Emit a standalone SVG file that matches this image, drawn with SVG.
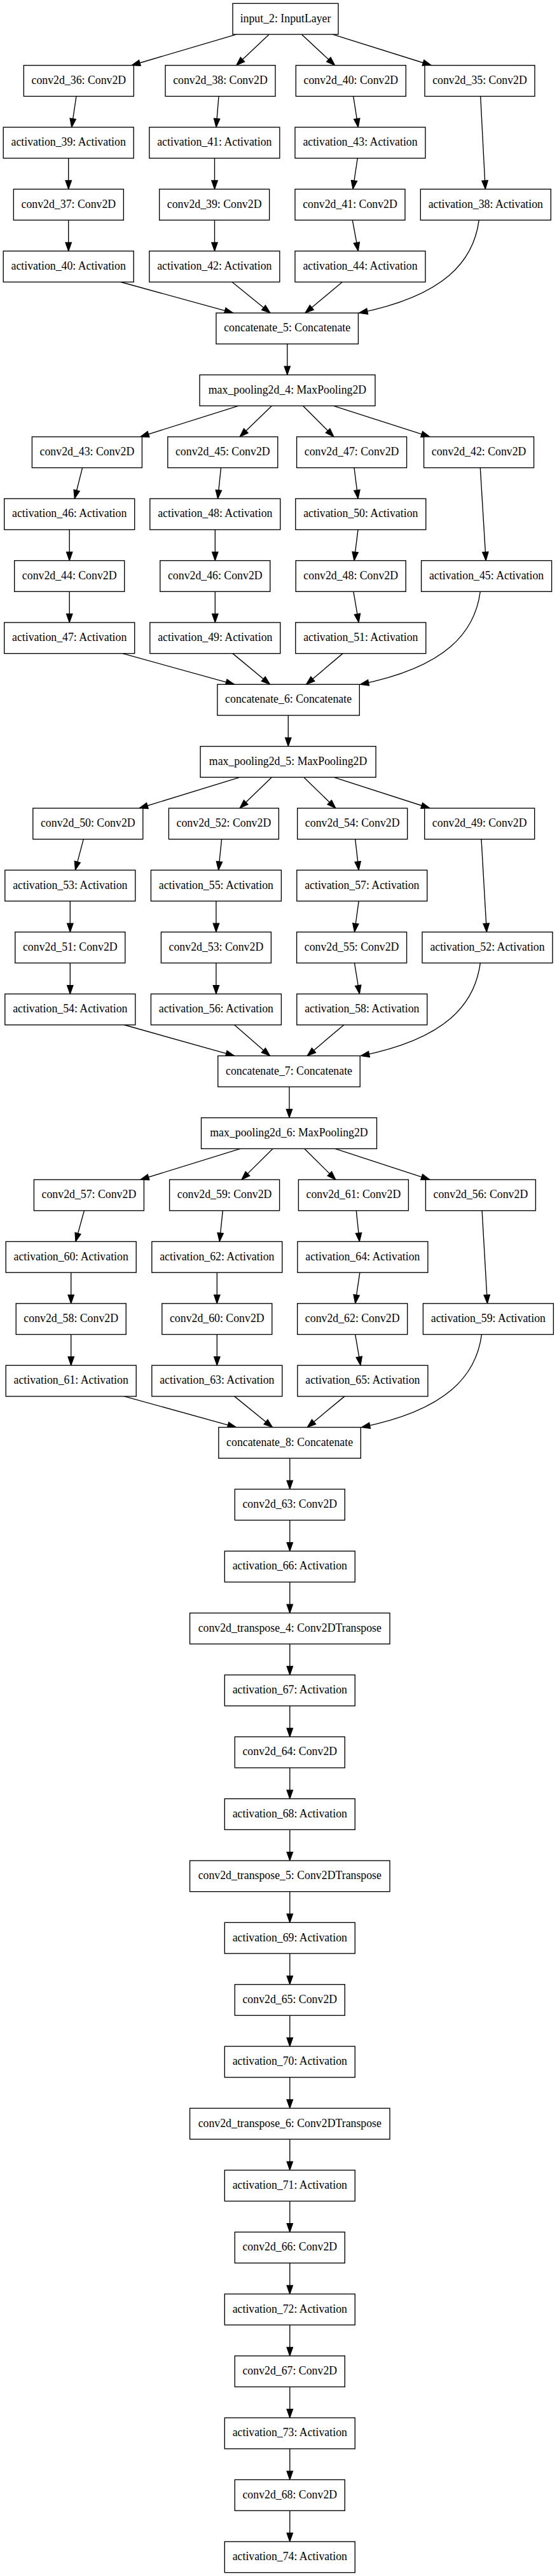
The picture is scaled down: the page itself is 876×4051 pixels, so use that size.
<svg xmlns="http://www.w3.org/2000/svg" width="876" height="4051" viewBox="0 0 876 4051">
<style>
.n rect{fill:#fff;stroke:#000;stroke-width:1.35}
.n text{font-family:"Liberation Serif","Times New Roman",serif;font-size:17.8px;text-anchor:middle;fill:#000}
.e path{fill:none;stroke:#000;stroke-width:1.35;marker-end:url(#ah)}
</style>
<defs>
<marker id="ah" markerUnits="userSpaceOnUse" markerWidth="20" markerHeight="20" refX="13.5" refY="4.73" orient="auto" overflow="visible">
<path d="M0,0 L13.5,4.73 L0,9.46 z" fill="#000" stroke="#000" stroke-width="1.2"/>
</marker>
</defs>
<rect width="876" height="4051" fill="#fff"/>
<g id="edges" class="e">
<path d="M371.7,54.09 L207,102.76"/>
<path d="M423.3,54.09 L371.7,102.76"/>
<path d="M474.3,54.09 L526.7,102.76"/>
<path d="M523.3,54.09 L678.3,102.76"/>
<path d="M120,151.44 L112.7,200.12"/>
<path d="M107.7,248.8 L107.7,297.47"/>
<path d="M107.7,346.15 L107.7,394.83"/>
<path d="M344,151.44 L340,200.12"/>
<path d="M337.5,248.8 L337.5,297.47"/>
<path d="M337.5,346.15 L337.5,394.83"/>
<path d="M555.7,151.44 L563.3,200.12"/>
<path d="M562.3,248.8 L555,297.47"/>
<path d="M554.3,346.15 L563.3,394.83"/>
<path d="M755.7,151.44 L763.3,297.47"/>
<path d="M190,443.51 L366.7,492.18"/>
<path d="M365,443.51 L425,492.18"/>
<path d="M538.3,443.51 L480,492.18"/>
<path d="M753.3,346.15 C745,410 700,465 564.5,492.18"/>
<path d="M451.8,540.86 L451.8,589.53"/>
<path d="M375.4,638.21 L220.7,686.89"/>
<path d="M427.4,638.21 L377.1,686.89"/>
<path d="M476.5,638.21 L525.1,686.89"/>
<path d="M524,638.21 L676,686.89"/>
<path d="M129.6,735.57 L117.3,784.24"/>
<path d="M109.2,832.92 L109.2,881.6"/>
<path d="M109.2,930.28 L109.2,978.95"/>
<path d="M347.5,735.57 L342.5,784.24"/>
<path d="M338.3,832.92 L338.3,881.6"/>
<path d="M338.3,930.28 L338.3,978.95"/>
<path d="M557,735.57 L563.1,784.24"/>
<path d="M563.1,832.92 L557,881.6"/>
<path d="M555.9,930.28 L564.2,978.95"/>
<path d="M755.3,735.57 L764.2,881.6"/>
<path d="M192.7,1027.63 L368.7,1076.3"/>
<path d="M365.9,1027.63 L424.6,1076.3"/>
<path d="M539.1,1027.63 L481.6,1076.3"/>
<path d="M755.3,930.28 C747,994.13 701.9,1049.1 566.4,1076.3"/>
<path d="M453.3,1124.98 L453.3,1173.66"/>
<path d="M377.1,1222.34 L219,1271.01"/>
<path d="M427.4,1222.34 L377.1,1271.01"/>
<path d="M477.7,1222.34 L527.9,1271.01"/>
<path d="M525.1,1222.34 L676,1271.01"/>
<path d="M131.3,1319.69 L118.4,1368.37"/>
<path d="M110.3,1417.05 L110.3,1465.72"/>
<path d="M110.3,1514.4 L110.3,1563.07"/>
<path d="M348.6,1319.69 L343.6,1368.37"/>
<path d="M339.9,1417.05 L339.9,1465.72"/>
<path d="M339.9,1514.4 L339.9,1563.07"/>
<path d="M558.7,1319.69 L564.2,1368.37"/>
<path d="M564.2,1417.05 L557.5,1465.72"/>
<path d="M557.5,1514.4 L565.4,1563.07"/>
<path d="M757,1319.69 L765.4,1465.72"/>
<path d="M195.5,1611.75 L368.7,1660.43"/>
<path d="M368.7,1611.75 L424.6,1660.43"/>
<path d="M540.8,1611.75 L483.2,1660.43"/>
<path d="M755.3,1514.4 C747,1578.25 702.8,1633.23 567.3,1660.43"/>
<path d="M455,1709.11 L455,1757.78"/>
<path d="M378.2,1806.46 L220.7,1855.14"/>
<path d="M429,1806.46 L379.9,1855.14"/>
<path d="M478.8,1806.46 L527.9,1855.14"/>
<path d="M526.8,1806.46 L676,1855.14"/>
<path d="M132.4,1903.82 L119,1952.49"/>
<path d="M111.7,2001.17 L111.7,2049.84"/>
<path d="M111.7,2098.52 L111.7,2147.2"/>
<path d="M350.3,1903.82 L345.3,1952.49"/>
<path d="M341.3,2001.17 L341.3,2049.84"/>
<path d="M341.3,2098.52 L341.3,2147.2"/>
<path d="M560.3,1903.82 L565.4,1952.49"/>
<path d="M565.9,2001.17 L558.7,2049.84"/>
<path d="M558.7,2098.52 L567,2147.2"/>
<path d="M758.1,1903.82 L766.5,2049.84"/>
<path d="M195.5,2195.88 L371.5,2244.55"/>
<path d="M368.7,2195.88 L428.5,2244.55"/>
<path d="M541.9,2195.88 L483.2,2244.55"/>
<path d="M757.5,2098.52 C749.2,2162.37 703.9,2217.35 568.4,2244.55"/>
<path d="M455.8,2293.23 L455.8,2341.91"/>
<path d="M455.8,2390.59 L455.8,2439.26"/>
<path d="M455.8,2487.94 L455.8,2536.61"/>
<path d="M455.8,2585.29 L455.8,2633.97"/>
<path d="M455.8,2682.65 L455.8,2731.32"/>
<path d="M455.8,2780 L455.8,2828.68"/>
<path d="M455.8,2877.36 L455.8,2926.03"/>
<path d="M455.8,2974.71 L455.8,3023.38"/>
<path d="M455.8,3072.06 L455.8,3120.74"/>
<path d="M455.8,3169.42 L455.8,3218.09"/>
<path d="M455.8,3266.77 L455.8,3315.45"/>
<path d="M455.8,3364.13 L455.8,3412.8"/>
<path d="M455.8,3461.48 L455.8,3510.15"/>
<path d="M455.8,3558.83 L455.8,3607.51"/>
<path d="M455.8,3656.19 L455.8,3704.86"/>
<path d="M455.8,3753.54 L455.8,3802.22"/>
<path d="M455.8,3850.9 L455.8,3899.57"/>
<path d="M455.8,3948.25 L455.8,3996.92"/>
</g>
<g id="input_2" class="n"><rect x="366" y="5.41" width="166" height="48.68"/><text x="449" y="34.55">input_2: InputLayer</text></g>
<g id="conv2d_36" class="n"><rect x="37.35" y="102.76" width="173" height="48.68"/><text x="123.85" y="131.9">conv2d_36: Conv2D</text></g>
<g id="conv2d_38" class="n"><rect x="260" y="102.76" width="173" height="48.68"/><text x="346.5" y="131.9">conv2d_38: Conv2D</text></g>
<g id="conv2d_40" class="n"><rect x="465.35" y="102.76" width="173" height="48.68"/><text x="551.85" y="131.9">conv2d_40: Conv2D</text></g>
<g id="conv2d_35" class="n"><rect x="668" y="102.76" width="173" height="48.68"/><text x="754.5" y="131.9">conv2d_35: Conv2D</text></g>
<g id="activation_39" class="n"><rect x="5.2" y="200.12" width="205" height="48.68"/><text x="107.7" y="229.26">activation_39: Activation</text></g>
<g id="activation_41" class="n"><rect x="234.85" y="200.12" width="205" height="48.68"/><text x="337.35" y="229.26">activation_41: Activation</text></g>
<g id="activation_43" class="n"><rect x="464" y="200.12" width="205" height="48.68"/><text x="566.5" y="229.26">activation_43: Activation</text></g>
<g id="conv2d_37" class="n"><rect x="21.35" y="297.47" width="173" height="48.68"/><text x="107.85" y="326.61">conv2d_37: Conv2D</text></g>
<g id="conv2d_39" class="n"><rect x="250.65" y="297.47" width="173" height="48.68"/><text x="337.15" y="326.61">conv2d_39: Conv2D</text></g>
<g id="conv2d_41" class="n"><rect x="464" y="297.47" width="173" height="48.68"/><text x="550.5" y="326.61">conv2d_41: Conv2D</text></g>
<g id="activation_38" class="n"><rect x="661.35" y="297.47" width="205" height="48.68"/><text x="763.85" y="326.61">activation_38: Activation</text></g>
<g id="activation_40" class="n"><rect x="5.2" y="394.83" width="205" height="48.68"/><text x="107.7" y="423.97">activation_40: Activation</text></g>
<g id="activation_42" class="n"><rect x="234.85" y="394.83" width="205" height="48.68"/><text x="337.35" y="423.97">activation_42: Activation</text></g>
<g id="activation_44" class="n"><rect x="464" y="394.83" width="205" height="48.68"/><text x="566.5" y="423.97">activation_44: Activation</text></g>
<g id="concatenate_5" class="n"><rect x="339.95" y="492.18" width="223.5" height="48.68"/><text x="451.7" y="521.32">concatenate_5: Concatenate</text></g>
<g id="max_pooling2d_4" class="n"><rect x="314" y="589.53" width="276" height="48.68"/><text x="452" y="618.67">max_pooling2d_4: MaxPooling2D</text></g>
<g id="conv2d_43" class="n"><rect x="50.4" y="686.89" width="173" height="48.68"/><text x="136.9" y="716.03">conv2d_43: Conv2D</text></g>
<g id="conv2d_45" class="n"><rect x="263.8" y="686.89" width="173" height="48.68"/><text x="350.3" y="716.03">conv2d_45: Conv2D</text></g>
<g id="conv2d_47" class="n"><rect x="466.6" y="686.89" width="173" height="48.68"/><text x="553.1" y="716.03">conv2d_47: Conv2D</text></g>
<g id="conv2d_42" class="n"><rect x="666.6" y="686.89" width="173" height="48.68"/><text x="753.1" y="716.03">conv2d_42: Conv2D</text></g>
<g id="activation_46" class="n"><rect x="6.7" y="784.24" width="205" height="48.68"/><text x="109.2" y="813.38">activation_46: Activation</text></g>
<g id="activation_48" class="n"><rect x="235.8" y="784.24" width="205" height="48.68"/><text x="338.3" y="813.38">activation_48: Activation</text></g>
<g id="activation_50" class="n"><rect x="464.8" y="784.24" width="205" height="48.68"/><text x="567.3" y="813.38">activation_50: Activation</text></g>
<g id="conv2d_44" class="n"><rect x="22.7" y="881.6" width="173" height="48.68"/><text x="109.2" y="910.74">conv2d_44: Conv2D</text></g>
<g id="conv2d_46" class="n"><rect x="251.8" y="881.6" width="173" height="48.68"/><text x="338.3" y="910.74">conv2d_46: Conv2D</text></g>
<g id="conv2d_48" class="n"><rect x="465.2" y="881.6" width="173" height="48.68"/><text x="551.7" y="910.74">conv2d_48: Conv2D</text></g>
<g id="activation_45" class="n"><rect x="662.6" y="881.6" width="205" height="48.68"/><text x="765.1" y="910.74">activation_45: Activation</text></g>
<g id="activation_47" class="n"><rect x="6.7" y="978.95" width="205" height="48.68"/><text x="109.2" y="1008.09">activation_47: Activation</text></g>
<g id="activation_49" class="n"><rect x="235.8" y="978.95" width="205" height="48.68"/><text x="338.3" y="1008.09">activation_49: Activation</text></g>
<g id="activation_51" class="n"><rect x="464.8" y="978.95" width="205" height="48.68"/><text x="567.3" y="1008.09">activation_51: Activation</text></g>
<g id="concatenate_6" class="n"><rect x="341.85" y="1076.3" width="223.5" height="48.68"/><text x="453.6" y="1105.44">concatenate_6: Concatenate</text></g>
<g id="max_pooling2d_5" class="n"><rect x="315.1" y="1173.66" width="276" height="48.68"/><text x="453.1" y="1202.8">max_pooling2d_5: MaxPooling2D</text></g>
<g id="conv2d_50" class="n"><rect x="51.8" y="1271.01" width="173" height="48.68"/><text x="138.3" y="1300.15">conv2d_50: Conv2D</text></g>
<g id="conv2d_52" class="n"><rect x="265.4" y="1271.01" width="173" height="48.68"/><text x="351.9" y="1300.15">conv2d_52: Conv2D</text></g>
<g id="conv2d_54" class="n"><rect x="467.7" y="1271.01" width="173" height="48.68"/><text x="554.2" y="1300.15">conv2d_54: Conv2D</text></g>
<g id="conv2d_49" class="n"><rect x="667.7" y="1271.01" width="173" height="48.68"/><text x="754.2" y="1300.15">conv2d_49: Conv2D</text></g>
<g id="activation_53" class="n"><rect x="7.8" y="1368.37" width="205" height="48.68"/><text x="110.3" y="1397.51">activation_53: Activation</text></g>
<g id="activation_55" class="n"><rect x="237.4" y="1368.37" width="205" height="48.68"/><text x="339.9" y="1397.51">activation_55: Activation</text></g>
<g id="activation_57" class="n"><rect x="466.8" y="1368.37" width="205" height="48.68"/><text x="569.3" y="1397.51">activation_57: Activation</text></g>
<g id="conv2d_51" class="n"><rect x="23.8" y="1465.72" width="173" height="48.68"/><text x="110.3" y="1494.86">conv2d_51: Conv2D</text></g>
<g id="conv2d_53" class="n"><rect x="253.4" y="1465.72" width="173" height="48.68"/><text x="339.9" y="1494.86">conv2d_53: Conv2D</text></g>
<g id="conv2d_55" class="n"><rect x="466.6" y="1465.72" width="173" height="48.68"/><text x="553.1" y="1494.86">conv2d_55: Conv2D</text></g>
<g id="activation_52" class="n"><rect x="664" y="1465.72" width="205" height="48.68"/><text x="766.5" y="1494.86">activation_52: Activation</text></g>
<g id="activation_54" class="n"><rect x="7.8" y="1563.07" width="205" height="48.68"/><text x="110.3" y="1592.21">activation_54: Activation</text></g>
<g id="activation_56" class="n"><rect x="237.4" y="1563.07" width="205" height="48.68"/><text x="339.9" y="1592.21">activation_56: Activation</text></g>
<g id="activation_58" class="n"><rect x="466.8" y="1563.07" width="205" height="48.68"/><text x="569.3" y="1592.21">activation_58: Activation</text></g>
<g id="concatenate_7" class="n"><rect x="342.75" y="1660.43" width="223.5" height="48.68"/><text x="454.5" y="1689.57">concatenate_7: Concatenate</text></g>
<g id="max_pooling2d_6" class="n"><rect x="316.5" y="1757.78" width="276" height="48.68"/><text x="454.5" y="1786.92">max_pooling2d_6: MaxPooling2D</text></g>
<g id="conv2d_57" class="n"><rect x="53.4" y="1855.14" width="173" height="48.68"/><text x="139.9" y="1884.28">conv2d_57: Conv2D</text></g>
<g id="conv2d_59" class="n"><rect x="266.6" y="1855.14" width="173" height="48.68"/><text x="353.1" y="1884.28">conv2d_59: Conv2D</text></g>
<g id="conv2d_61" class="n"><rect x="469.4" y="1855.14" width="173" height="48.68"/><text x="555.9" y="1884.28">conv2d_61: Conv2D</text></g>
<g id="conv2d_56" class="n"><rect x="669.4" y="1855.14" width="173" height="48.68"/><text x="755.9" y="1884.28">conv2d_56: Conv2D</text></g>
<g id="activation_60" class="n"><rect x="9.2" y="1952.49" width="205" height="48.68"/><text x="111.7" y="1981.63">activation_60: Activation</text></g>
<g id="activation_62" class="n"><rect x="238.8" y="1952.49" width="205" height="48.68"/><text x="341.3" y="1981.63">activation_62: Activation</text></g>
<g id="activation_64" class="n"><rect x="467.9" y="1952.49" width="205" height="48.68"/><text x="570.4" y="1981.63">activation_64: Activation</text></g>
<g id="conv2d_58" class="n"><rect x="25.2" y="2049.84" width="173" height="48.68"/><text x="111.7" y="2078.98">conv2d_58: Conv2D</text></g>
<g id="conv2d_60" class="n"><rect x="254.8" y="2049.84" width="173" height="48.68"/><text x="341.3" y="2078.98">conv2d_60: Conv2D</text></g>
<g id="conv2d_62" class="n"><rect x="467.7" y="2049.84" width="173" height="48.68"/><text x="554.2" y="2078.98">conv2d_62: Conv2D</text></g>
<g id="activation_59" class="n"><rect x="665.4" y="2049.84" width="205" height="48.68"/><text x="767.9" y="2078.98">activation_59: Activation</text></g>
<g id="activation_61" class="n"><rect x="9.2" y="2147.2" width="205" height="48.68"/><text x="111.7" y="2176.34">activation_61: Activation</text></g>
<g id="activation_63" class="n"><rect x="238.8" y="2147.2" width="205" height="48.68"/><text x="341.3" y="2176.34">activation_63: Activation</text></g>
<g id="activation_65" class="n"><rect x="467.9" y="2147.2" width="205" height="48.68"/><text x="570.4" y="2176.34">activation_65: Activation</text></g>
<g id="concatenate_8" class="n"><rect x="343.85" y="2244.55" width="223.5" height="48.68"/><text x="455.6" y="2273.69">concatenate_8: Concatenate</text></g>
<g id="conv2d_63" class="n"><rect x="369.3" y="2341.91" width="173" height="48.68"/><text x="455.8" y="2371.05">conv2d_63: Conv2D</text></g>
<g id="activation_66" class="n"><rect x="353.3" y="2439.26" width="205" height="48.68"/><text x="455.8" y="2468.4">activation_66: Activation</text></g>
<g id="conv2d_transpose_4" class="n"><rect x="298.55" y="2536.61" width="314.5" height="48.68"/><text x="455.8" y="2565.75">conv2d_transpose_4: Conv2DTranspose</text></g>
<g id="activation_67" class="n"><rect x="353.3" y="2633.97" width="205" height="48.68"/><text x="455.8" y="2663.11">activation_67: Activation</text></g>
<g id="conv2d_64" class="n"><rect x="369.3" y="2731.32" width="173" height="48.68"/><text x="455.8" y="2760.46">conv2d_64: Conv2D</text></g>
<g id="activation_68" class="n"><rect x="353.3" y="2828.68" width="205" height="48.68"/><text x="455.8" y="2857.82">activation_68: Activation</text></g>
<g id="conv2d_transpose_5" class="n"><rect x="298.55" y="2926.03" width="314.5" height="48.68"/><text x="455.8" y="2955.17">conv2d_transpose_5: Conv2DTranspose</text></g>
<g id="activation_69" class="n"><rect x="353.3" y="3023.38" width="205" height="48.68"/><text x="455.8" y="3052.52">activation_69: Activation</text></g>
<g id="conv2d_65" class="n"><rect x="369.3" y="3120.74" width="173" height="48.68"/><text x="455.8" y="3149.88">conv2d_65: Conv2D</text></g>
<g id="activation_70" class="n"><rect x="353.3" y="3218.09" width="205" height="48.68"/><text x="455.8" y="3247.23">activation_70: Activation</text></g>
<g id="conv2d_transpose_6" class="n"><rect x="298.55" y="3315.45" width="314.5" height="48.68"/><text x="455.8" y="3344.59">conv2d_transpose_6: Conv2DTranspose</text></g>
<g id="activation_71" class="n"><rect x="353.3" y="3412.8" width="205" height="48.68"/><text x="455.8" y="3441.94">activation_71: Activation</text></g>
<g id="conv2d_66" class="n"><rect x="369.3" y="3510.15" width="173" height="48.68"/><text x="455.8" y="3539.29">conv2d_66: Conv2D</text></g>
<g id="activation_72" class="n"><rect x="353.3" y="3607.51" width="205" height="48.68"/><text x="455.8" y="3636.65">activation_72: Activation</text></g>
<g id="conv2d_67" class="n"><rect x="369.3" y="3704.86" width="173" height="48.68"/><text x="455.8" y="3734">conv2d_67: Conv2D</text></g>
<g id="activation_73" class="n"><rect x="353.3" y="3802.22" width="205" height="48.68"/><text x="455.8" y="3831.36">activation_73: Activation</text></g>
<g id="conv2d_68" class="n"><rect x="369.3" y="3899.57" width="173" height="48.68"/><text x="455.8" y="3928.71">conv2d_68: Conv2D</text></g>
<g id="activation_74" class="n"><rect x="353.3" y="3996.92" width="205" height="48.68"/><text x="455.8" y="4026.06">activation_74: Activation</text></g>
</svg>
